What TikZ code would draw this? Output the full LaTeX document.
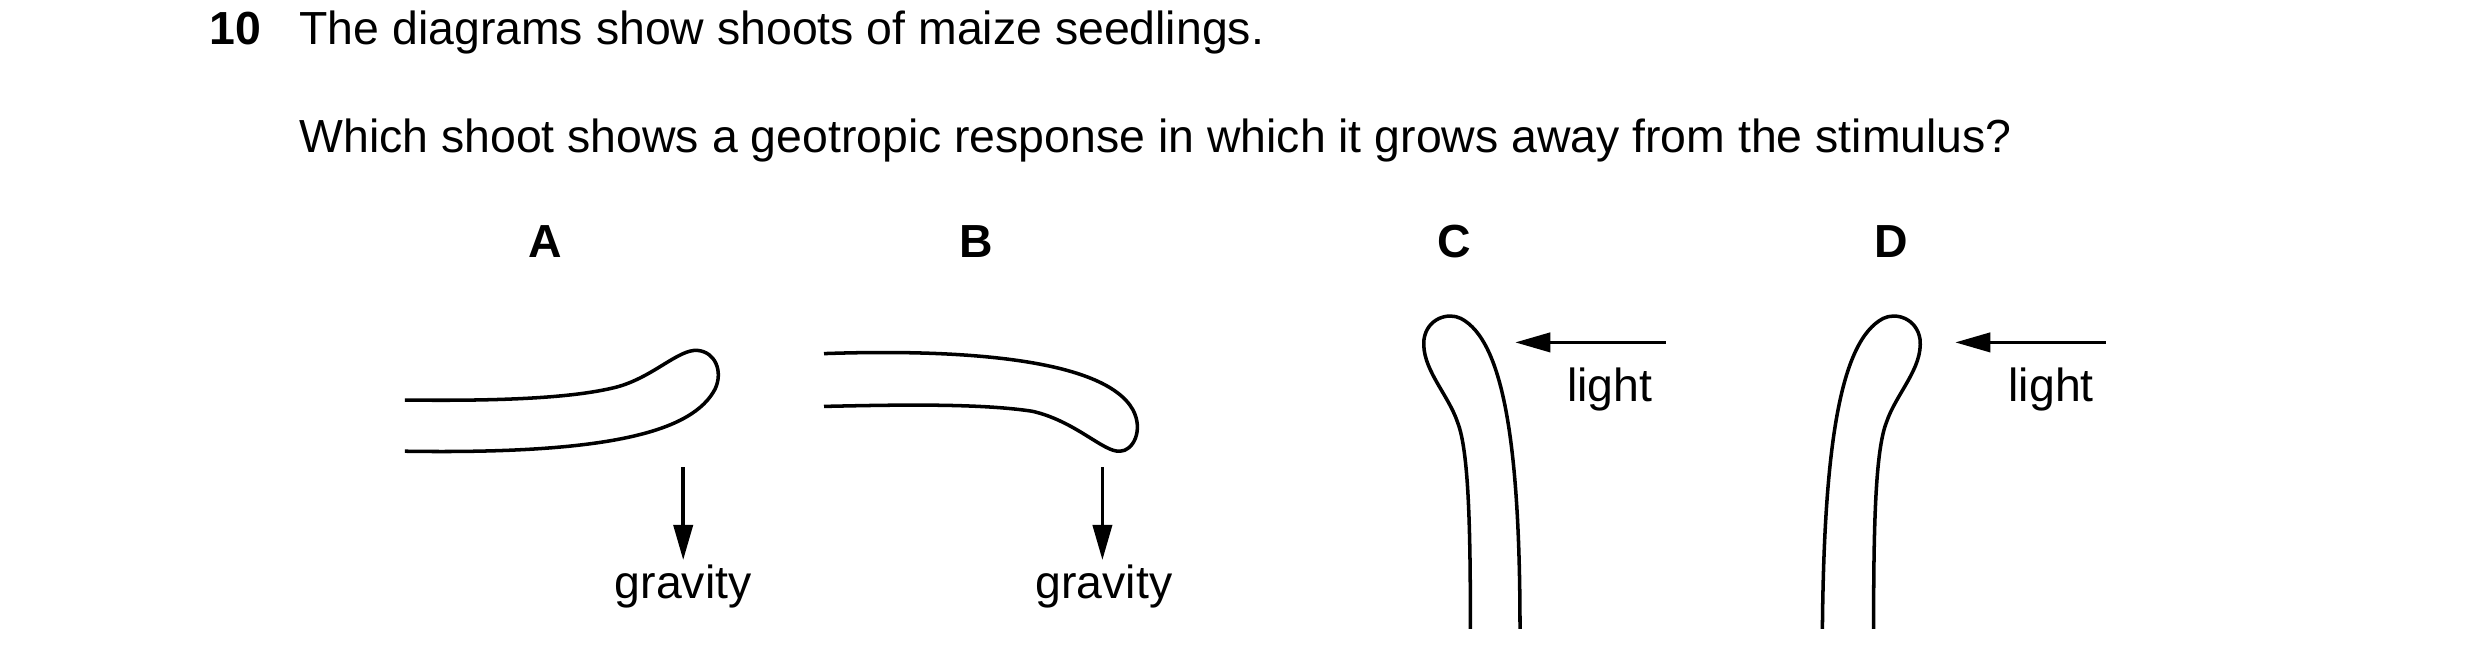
\documentclass[tikz,border=0pt]{standalone}
\usepackage{fontspec}
\setmainfont{Liberation Sans}
\usetikzlibrary{arrows.meta}
\begin{document}
\begin{tikzpicture}[x=1pt,y=-1pt,
  txt/.style={inner sep=0pt,font=\fontsize{29}{34}\selectfont},
  lbl/.style={inner sep=0pt,anchor=base,font=\fontsize{29}{34}\selectfont\bfseries},
  shoot/.style={line width=2.2pt,line cap=butt,line join=round},
  stim/.style={line width=2.2pt,-{Triangle[length=22pt,width=12pt]}}]
\useasboundingbox (0,0) rectangle (1550,416);
\node[txt,anchor=base west,font=\fontsize{29}{34}\selectfont\bfseries] (num) at (131,28) {10};
\node[txt,anchor=base west] (q1) at (187,28) {The diagrams show shoots of maize seedlings.};
\node[txt,anchor=base west] (q2) at (187,95) {Which shoot shows a geotropic response in which it grows away from the stimulus?};
\node[lbl] (la) at (341,161) {A};
\node[lbl] (lb) at (610,161) {B};
\node[lbl] (lc) at (909,161) {C};
\node[lbl] (ld) at (1182,161) {D};
% shoot A
\draw[shoot] (253,250) .. controls (330,251) and (365,247) .. (385,242)
  .. controls (408,236) and (424,218) .. (436,219)
  .. controls (447,220) and (452,232) .. (447,243)
  .. controls (433,270) and (380,284) .. (253,282);
% shoot B
\draw[shoot] (515,221) .. controls (600,218) and (690,224) .. (708,256)
  .. controls (715,269) and (708,282) .. (700,282)
  .. controls (690,283) and (672,263) .. (645,257)
  .. controls (612,252) and (560,253) .. (515,254);
% shoot C
\draw[shoot] (919,393) .. controls (919,330) and (918,282) .. (911,264)
  .. controls (905,246) and (888,230) .. (890,212)
  .. controls (892,199) and (905,195) .. (913,199)
  .. controls (940,213) and (950,280) .. (950,393);
% shoot D (mirror of C)
\draw[shoot] (1171,393) .. controls (1171,330) and (1172,282) .. (1179,264)
  .. controls (1185,246) and (1202,230) .. (1200,212)
  .. controls (1198,199) and (1185,195) .. (1177,199)
  .. controls (1150,213) and (1140,280) .. (1139,393);
% stimuli
\coordinate (ga0) at (427,292); \coordinate (ga1) at (427,350);
\coordinate (gb0) at (689,292); \coordinate (gb1) at (689,350);
\coordinate (lc0) at (1041,214); \coordinate (lc1) at (947,214);
\coordinate (ld0) at (1316,214); \coordinate (ld1) at (1222,214);
\draw[stim] (ga0) -- (ga1);
\draw[stim] (gb0) -- (gb1);
\draw[stim] (lc0) -- (lc1);
\draw[stim] (ld0) -- (ld1);
\node[txt,anchor=base] (tga) at (427,374) {gravity};
\node[txt,anchor=base] (tgb) at (690,374) {gravity};
\node[txt,anchor=base] (tlc) at (1006,251) {light};
\node[txt,anchor=base] (tld) at (1282,251) {light};
\end{tikzpicture}
\end{document}
